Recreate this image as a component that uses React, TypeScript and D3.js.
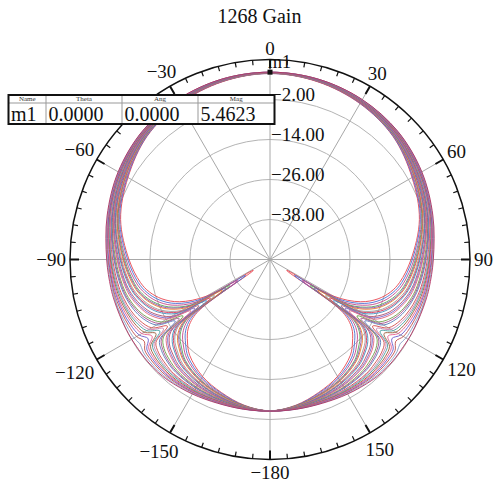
import React from "react";
import * as d3 from "d3";

// chart title and marker table
const title = "1268 Gain";
const markerName = "m1";
const markerTheta = 0;
const markerAng = 0;
const markerMag = 5.4623;

// radial grid (dB) and angular ticks
const ringValues = [-38, -26, -14, -2];
const angleTicks = [0, 30, 60, 90, 120, 150, 180, 210, 240, 270, 300, 330];
const angleLabels = ["0", "30", "60", "90", "120", "150", "−180", "−150", "−120", "−90", "−60", "−30"];

// theta (deg) at which the traces were read; the pattern is symmetric about 0/180
const thetaDeg = [0, 15, 30, 45, 60, 75, 90, 100, 105, 110, 115, 120, 123, 126, 130, 135, 140, 150, 160, 170, 180];

// gain traces in dB, roughly from the deepest null to the shallowest
const trace00 = [5.8, 5.2, 4.0, 2.2, -0.8, -3.6, -7.7, -10.5, -12.5, -15.5, -20, -28, -44, -23, -18, -15, -12.5, -9.5, -7.5, -5.6, -4.6];
const trace01 = [5.8, 5.3, 4.1, 2.3, -0.6, -3.3, -7.3, -9.9, -11.8, -14.6, -18.8, -26.3, -41.2, -21.6, -17.0, -14.2, -11.8, -9.1, -7.3, -5.5, -4.6];
const trace02 = [5.9, 5.3, 4.2, 2.5, -0.4, -3.0, -6.8, -9.3, -11.1, -13.7, -17.6, -24.5, -38.4, -20.2, -15.9, -13.3, -11.2, -8.7, -7.0, -5.4, -4.6];
const trace03 = [5.9, 5.4, 4.3, 2.6, -0.1, -2.8, -6.4, -8.7, -10.3, -12.8, -16.4, -22.8, -35.6, -18.8, -14.8, -12.5, -10.5, -8.3, -6.8, -5.4, -4.6];
const trace03b = [5.9, 5.4, 4.3, 2.7, 0.0, -2.6, -6.1, -8.4, -9.9, -12.3, -15.8, -22.0, -34.2, -18.1, -14.3, -12.0, -10.2, -8.1, -6.7, -5.3, -4.6];
const trace04 = [5.9, 5.4, 4.4, 2.8, 0.1, -2.5, -5.9, -8.1, -9.6, -11.9, -15.2, -21.1, -32.9, -17.5, -13.8, -11.6, -9.9, -7.9, -6.6, -5.3, -4.6];
const trace05 = [5.9, 5.5, 4.5, 2.9, 0.3, -2.2, -5.5, -7.5, -8.9, -11.0, -14.0, -19.4, -30.1, -16.1, -12.7, -10.8, -9.2, -7.5, -6.4, -5.2, -4.6];
const trace05b = [6.0, 5.5, 4.5, 3.0, 0.4, -2.0, -5.2, -7.2, -8.5, -10.5, -13.4, -18.5, -28.7, -15.4, -12.2, -10.3, -8.8, -7.3, -6.2, -5.1, -4.6];
const trace06 = [6.0, 5.5, 4.6, 3.0, 0.6, -1.9, -5.0, -6.9, -8.2, -10.1, -12.8, -17.6, -27.3, -14.7, -11.7, -9.9, -8.5, -7.1, -6.1, -5.1, -4.6];
const trace07 = [6.0, 5.6, 4.7, 3.2, 0.8, -1.6, -4.6, -6.3, -7.5, -9.2, -11.6, -15.9, -24.5, -13.3, -10.6, -9.1, -7.9, -6.7, -5.9, -5.0, -4.6];
const trace07b = [6.0, 5.6, 4.7, 3.2, 0.9, -1.5, -4.3, -6.0, -7.1, -8.7, -11.0, -15.0, -23.1, -12.6, -10.1, -8.6, -7.5, -6.4, -5.8, -5.0, -4.5];
const trace08 = [6.0, 5.6, 4.7, 3.3, 1.0, -1.4, -4.1, -5.7, -6.7, -8.3, -10.4, -14.2, -21.7, -11.9, -9.6, -8.2, -7.2, -6.2, -5.7, -5.0, -4.5];
const trace09 = [6.0, 5.7, 4.8, 3.5, 1.2, -1.1, -3.7, -5.1, -6.0, -7.3, -9.2, -12.5, -18.9, -10.5, -8.5, -7.4, -6.6, -5.8, -5.5, -4.9, -4.5];
const trace09b = [6.0, 5.7, 4.8, 3.5, 1.3, -1.0, -3.4, -4.8, -5.6, -6.9, -8.6, -11.6, -17.5, -9.8, -8.0, -6.9, -6.2, -5.6, -5.3, -4.8, -4.5];
const trace10 = [6.1, 5.7, 4.9, 3.6, 1.5, -0.8, -3.2, -4.5, -5.3, -6.4, -8.0, -10.7, -16.1, -9.1, -7.5, -6.5, -5.9, -5.4, -5.2, -4.8, -4.5];
const trace11 = [6.1, 5.8, 5.0, 3.7, 1.7, -0.5, -2.8, -3.9, -4.6, -5.5, -6.8, -9.0, -13.3, -7.7, -6.4, -5.7, -5.2, -5.0, -5.0, -4.7, -4.5];
const trace11b = [6.1, 5.8, 5.0, 3.8, 1.8, -0.4, -2.5, -3.6, -4.2, -5.0, -6.2, -8.1, -11.9, -7.0, -5.9, -5.2, -4.9, -4.8, -4.9, -4.6, -4.5];
const trace12 = [6.1, 5.8, 5.1, 3.9, 1.9, -0.2, -2.3, -3.3, -3.9, -4.6, -5.6, -7.3, -10.6, -6.4, -5.4, -4.8, -4.6, -4.6, -4.8, -4.6, -4.5];
const trace12b = [6.1, 5.8, 5.1, 3.9, 2.0, -0.1, -2.1, -3.0, -3.5, -4.2, -5.0, -6.4, -9.2, -5.7, -4.8, -4.4, -4.2, -4.4, -4.7, -4.6, -4.5];
const trace13 = [6.1, 5.9, 5.2, 4.0, 2.1, 0.0, -1.9, -2.7, -3.1, -3.7, -4.4, -5.6, -7.8, -5.0, -4.3, -4.0, -3.9, -4.2, -4.6, -4.6, -4.5];
const trace13b = [6.2, 5.9, 5.2, 4.1, 2.2, 0.1, -1.6, -2.4, -2.8, -3.2, -3.8, -4.7, -6.4, -4.3, -3.8, -3.6, -3.6, -4.0, -4.4, -4.5, -4.5];
const trace14 = [6.2, 6.0, 5.3, 4.2, 2.4, 0.3, -1.4, -2.1, -2.4, -2.8, -3.2, -3.8, -5.0, -3.6, -3.3, -3.2, -3.3, -3.8, -4.3, -4.5, -4.5];
const trace14b = [6.2, 6.0, 5.3, 4.2, 2.5, 0.4, -1.2, -1.8, -2.0, -2.3, -2.6, -2.9, -3.5, -2.9, -2.7, -2.7, -2.9, -3.6, -4.2, -4.4, -4.5];
const trace15 = [6.2, 6.0, 5.4, 4.3, 2.6, 0.6, -1.0, -1.5, -1.7, -1.9, -2.0, -2.1, -2.2, -2.2, -2.2, -2.3, -2.6, -3.4, -4.1, -4.4, -4.5];

const traces = [trace00, trace01, trace02, trace03, trace03b, trace04, trace05, trace05b, trace06, trace07,
  trace07b, trace08, trace09, trace09b, trace10, trace11, trace11b, trace12, trace12b, trace13, trace13b,
  trace14, trace14b, trace15];

const traceColors = ["#e8454f", "#4a6fd0", "#c2478a", "#5aa55a", "#8c4fb0", "#e57c2f", "#9a9a9a", "#d9365a",
  "#3f8fc0", "#b0506a", "#7a66c8", "#e0637a", "#6f9f4a", "#a44c8c", "#5a7ab8", "#d24a4a",
  "#c77fb0", "#48a0a0", "#9b5b3a", "#e85a8a", "#6a5acd", "#c0504d", "#8aa0c8", "#b03060"];

const W = 496;
const H = 485;
const cx = 270;
const cy = 259.5;
const R = 200;
const font = '"Liberation Serif", "DejaVu Serif", serif';

const App = () => {
  const r = d3.scaleLinear().domain([-50, 10]).range([0, R]);
  const rad = (d: number) => (d * Math.PI) / 180;
  const fmt = d3.format(".2f");
  const fmt4 = d3.format(".4f");

  const line = d3
    .lineRadial<[number, number]>()
    .angle((d) => rad(d[0]))
    .radius((d) => r(d[1]))
    .curve(d3.curveCatmullRomClosed.alpha(0.5));

  // right half as read, left half mirrored
  const fullTrace = (vals: number[]) => {
    const right = thetaDeg.map((a, i) => [a, vals[i]] as [number, number]);
    const left = thetaDeg
      .map((a, i) => [360 - a, vals[i]] as [number, number])
      .slice(1, -1)
      .reverse();
    return right.concat(left);
  };

  const minorTicks = d3.range(0, 360, 5);

  const colX = [8.5, 46, 122, 198, 274.5];
  const headers = ["Name", "Theta", "Ang", "Mag"];
  const row = [markerName, fmt4(markerTheta), fmt4(markerAng), fmt4(markerMag)];

  const markerR = r(trace15[0]);
  const txt = { fontFamily: font };

  return (
    <svg
      width={W}
      height={H}
      style={{ position: "absolute", left: 0, top: 0, background: "#fff", fontFamily: font }}
    >
      <text x={259.5} y={22.5} textAnchor="middle" fontSize={20} fill="#111" style={txt}>
        {title}
      </text>

      <g transform={`translate(${cx},${cy})`}>
        {/* grid rings */}
        {ringValues.map((v) => (
          <circle key={v} r={r(v)} fill="none" stroke="#b4b4b4" strokeWidth={1} />
        ))}
        {/* spokes */}
        {angleTicks.map((a) => (
          <line
            key={a}
            x1={0}
            y1={0}
            x2={R * Math.sin(rad(a))}
            y2={-R * Math.cos(rad(a))}
            stroke="#a8a8a8"
            strokeWidth={1}
          />
        ))}

        {/* traces */}
        {traces.map((t, i) => (
          <path
            key={i}
            d={line(fullTrace(t)) || ""}
            fill="none"
            stroke={traceColors[i % traceColors.length]}
            strokeWidth={1}
            strokeOpacity={0.9}
          />
        ))}

        {/* outer circle and ticks */}
        <circle r={R} fill="none" stroke="#111" strokeWidth={1.5} />
        {minorTicks.map((a) => {
          const major = a % 30 === 0;
          const len = major ? 9 : 5;
          const s = Math.sin(rad(a));
          const c = Math.cos(rad(a));
          return (
            <line
              key={a}
              x1={R * s}
              y1={-R * c}
              x2={(R - len) * s}
              y2={-(R - len) * c}
              stroke="#111"
              strokeWidth={major ? 2 : 1.2}
            />
          );
        })}

        {/* angle labels, centred just outside the rim */}
        {angleTicks.map((a, i) => {
          const s = Math.sin(rad(a));
          const c = Math.cos(rad(a));
          const label = angleLabels[i];
          const w = label.replace("−", "").length * 9.5 + (label.startsWith("−") ? 10.7 : 0);
          const gap = 4 + (c < 0 ? 3 * -c : 0);
          const rr = R + gap + Math.abs(s) * (w / 2) + Math.abs(c) * 6.5;
          return (
            <text
              key={a}
              x={rr * s}
              y={-rr * c}
              dy="0.33em"
              textAnchor="middle"
              fontSize={19}
              fill="#111"
              style={txt}
            >
              {label}
            </text>
          );
        })}

        {/* radial labels */}
        {ringValues.map((v) => (
          <text key={v} x={1} y={-r(v) + 1} fontSize={19} fill="#111" style={txt}>
            {fmt(v)}
          </text>
        ))}

        {/* marker */}
        <rect x={-2.5} y={-markerR - 2.5} width={5} height={5} fill="#111" />
        <text x={-2} y={-markerR - 4} fontSize={18} fill="#111" style={txt}>
          {markerName}
        </text>
      </g>

      {/* marker table */}
      <g>
        <rect x={8.5} y={95} width={266} height={29} fill="#fff" stroke="none" />
        <line x1={8.5} x2={274.5} y1={103} y2={103} stroke="#999" strokeWidth={1} />
        {colX.slice(1, -1).map((x) => (
          <line key={x} x1={x} x2={x} y1={95} y2={124} stroke="#999" strokeWidth={1} />
        ))}
        {headers.map((h, i) => (
          <text
            key={h}
            x={(colX[i] + colX[i + 1]) / 2}
            y={101}
            textAnchor="middle"
            fontSize={7}
            fill="#333"
            style={txt}
          >
            {h}
          </text>
        ))}
        {row.map((t, i) => (
          <text key={i} x={colX[i] + 2.5} y={120.5} fontSize={20} fill="#111" style={txt}>
            {t}
          </text>
        ))}
        <rect x={8.5} y={95} width={266} height={29} fill="none" stroke="#111" strokeWidth={2} />
      </g>
    </svg>
  );
};

export default App;
